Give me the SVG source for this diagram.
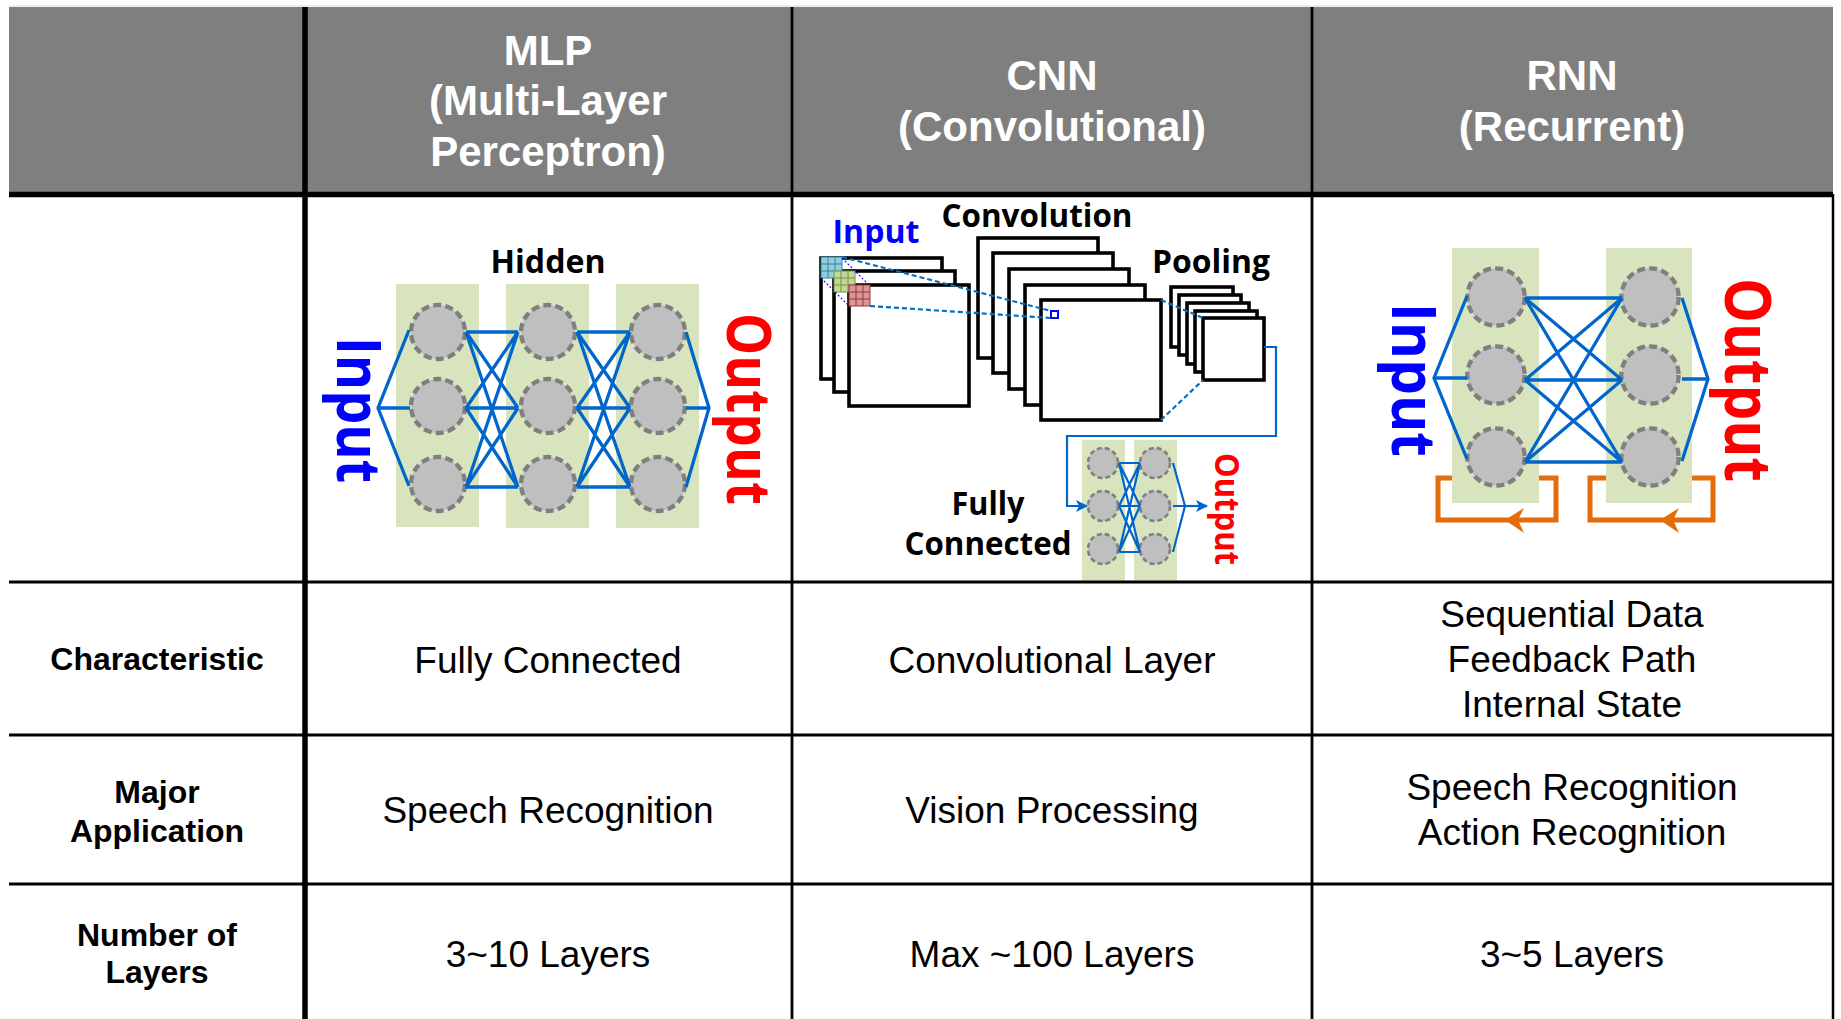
<svg xmlns="http://www.w3.org/2000/svg" xmlns:xlink="http://www.w3.org/1999/xlink" width="1841" height="1019" viewBox="0 0 1841 1019">
  <defs>
    <style>
      .hdr { font-family: "Liberation Sans", Arial, sans-serif; font-weight: bold; font-size: 42px; fill: #FFFFFF; text-anchor: middle; }
      .rowlbl { font-family: "Liberation Sans", Arial, sans-serif; font-weight: bold; font-size: 32px; fill: #000000; text-anchor: middle; }
      .cell { font-family: "Liberation Sans", Arial, sans-serif; font-size: 37px; fill: #000000; text-anchor: middle; }
      .lbl { font-family: "Open Sans", "Noto Sans", sans-serif; font-weight: bold; text-anchor: middle; }
      .grid { stroke: #000000; fill: none; }
      .layer { fill: #D7E4BD; }
      .neuron { fill: #BFBFBF; stroke: #7F7F7F; stroke-width: 4.3; stroke-dasharray: 8 4.2; }
      .neuron-s { fill: #BFBFBF; stroke: #7F7F7F; stroke-width: 2.6; stroke-dasharray: 5 3; }
      .link { fill: none; stroke: #0066CC; stroke-width: 3.3; stroke-linejoin: miter; }
      .link-s { fill: none; stroke: #0066CC; stroke-width: 2.2; }
      .fmap { fill: #FFFFFF; stroke: #000000; stroke-width: 3.6; }
      .proj { fill: none; stroke: #0070C0; stroke-width: 2.2; stroke-dasharray: 5 3; }
      .proj-thin { fill: none; stroke: #0000FF; stroke-width: 1.1; stroke-dasharray: 2 2; }
      .loop { fill: none; stroke: #E46C0A; stroke-width: 5; }
    </style>
    <marker id="arrowBlue" markerUnits="userSpaceOnUse" markerWidth="12" markerHeight="12" refX="11" refY="6" orient="auto">
      <path d="M0,0 L12,6 L0,12 L3,6 Z" fill="#0066CC"/>
    </marker>
    <path id="stealthLeft" d="M0,0 L19,-12 L13,0 L19,13 Z" fill="#E46C0A"/>
  </defs>

  <rect x="0" y="0" width="1841" height="1019" fill="#FFFFFF"/>

  <!-- header band -->
  <g id="header">
    <line x1="9" y1="6" x2="1833" y2="6" stroke="#D9D9D9" stroke-width="1"/>
    <rect x="9" y="7" width="1824" height="188" fill="#7F7F7F"/>
    <text class="hdr" x="548" y="65">MLP</text>
    <text class="hdr" x="548" y="115">(Multi-Layer</text>
    <text class="hdr" x="548" y="166">Perceptron)</text>
    <text class="hdr" x="1052" y="90">CNN</text>
    <text class="hdr" x="1052" y="141">(Convolutional)</text>
    <text class="hdr" x="1572" y="90">RNN</text>
    <text class="hdr" x="1572" y="141">(Recurrent)</text>
  </g>

  <!-- row labels -->
  <g id="row-labels">
    <text class="rowlbl" x="157" y="670">Characteristic</text>
    <text class="rowlbl" x="157" y="803">Major</text>
    <text class="rowlbl" x="157" y="842">Application</text>
    <text class="rowlbl" x="157" y="946">Number of</text>
    <text class="rowlbl" x="157" y="983">Layers</text>
  </g>

  <!-- table cells -->
  <g id="cells">
    <text class="cell" x="548" y="673">Fully Connected</text>
    <text class="cell" x="548" y="823">Speech Recognition</text>
    <text class="cell" x="548" y="967">3~10 Layers</text>
    <text class="cell" x="1052" y="673">Convolutional Layer</text>
    <text class="cell" x="1052" y="823">Vision Processing</text>
    <text class="cell" x="1052" y="967">Max ~100 Layers</text>
    <text class="cell" x="1572" y="627">Sequential Data</text>
    <text class="cell" x="1572" y="672">Feedback Path</text>
    <text class="cell" x="1572" y="717">Internal State</text>
    <text class="cell" x="1572" y="800">Speech Recognition</text>
    <text class="cell" x="1572" y="845">Action Recognition</text>
    <text class="cell" x="1572" y="967">3~5 Layers</text>
  </g>

  <!-- ===== MLP ===== -->
  <g id="mlp-layer-1">
    <rect class="layer" x="396" y="284" width="83" height="243"/>
    <circle class="neuron" cx="438" cy="332" r="27"/>
    <circle class="neuron" cx="438" cy="406" r="27"/>
    <circle class="neuron" cx="438" cy="484" r="27"/>
  </g>
  <g id="mlp-layer-2">
    <rect class="layer" x="506" y="284" width="83" height="244"/>
    <circle class="neuron" cx="548" cy="332" r="27"/>
    <circle class="neuron" cx="548" cy="406" r="27"/>
    <circle class="neuron" cx="548" cy="484" r="27"/>
  </g>
  <g id="mlp-layer-3">
    <rect class="layer" x="616" y="284" width="83" height="244"/>
    <circle class="neuron" cx="658" cy="332" r="27"/>
    <circle class="neuron" cx="658" cy="406" r="27"/>
    <circle class="neuron" cx="658" cy="484" r="27"/>
  </g>
  <g id="mlp-labels">
    <text class="lbl" x="548" y="273" font-size="32" textLength="115" lengthAdjust="spacingAndGlyphs" fill="#000000">Hidden</text>
    <text class="lbl" transform="translate(337,410) rotate(90)" font-size="60" textLength="146" lengthAdjust="spacingAndGlyphs" fill="#0000FF">Input</text>
    <text class="lbl" transform="translate(727,409) rotate(90)" font-size="60" textLength="192" lengthAdjust="spacingAndGlyphs" fill="#FF0000">Output</text>
  </g>

  <!-- ===== CNN ===== -->
  <g id="cnn-input">
    <rect class="fmap" x="821" y="258" width="121" height="121"/>
    <rect class="fmap" x="834" y="271" width="121" height="121"/>
    <rect class="fmap" x="849" y="285" width="120" height="121"/>
    <!-- 3x3 kernels, one per channel -->
    <g stroke="#31859C" stroke-width="1" fill="#93CDDD">
      <rect x="821" y="257" width="21" height="21"/>
      <path d="M828,257 V278 M835,257 V278 M821,264 H842 M821,271 H842" fill="none"/>
    </g>
    <g stroke="#77933C" stroke-width="1" fill="#C3D69B">
      <rect x="834" y="271" width="21" height="21"/>
      <path d="M841,271 V292 M848,271 V292 M834,278 H855 M834,285 H855" fill="none"/>
    </g>
    <g stroke="#953735" stroke-width="1" fill="#D99694">
      <rect x="849" y="285" width="21" height="21"/>
      <path d="M856,285 V306 M863,285 V306 M849,292 H870 M849,299 H870" fill="none"/>
    </g>
  </g>
  <g id="cnn-convolution">
    <rect class="fmap" x="978" y="238" width="120" height="120"/>
    <rect class="fmap" x="993" y="253" width="120" height="120"/>
    <rect class="fmap" x="1009" y="269" width="120" height="120"/>
    <rect class="fmap" x="1025" y="285" width="120" height="120"/>
    <rect class="fmap" x="1041" y="300" width="120" height="120"/>
    <rect x="1051" y="311" width="7" height="7" fill="#FFFFFF" stroke="#0000FF" stroke-width="2"/>
  </g>
  <g id="cnn-pooling">
    <rect class="fmap" x="1171" y="287" width="62" height="60"/>
    <rect class="fmap" x="1179" y="295" width="62" height="60"/>
    <rect class="fmap" x="1187" y="303" width="62" height="61"/>
    <rect class="fmap" x="1195" y="311" width="62" height="61"/>
    <rect class="fmap" x="1203" y="318" width="61" height="62"/>
  </g>
  <g id="cnn-fc-1">
    <rect class="layer" x="1082" y="440" width="43" height="141"/>
    <circle class="neuron-s" cx="1103" cy="463" r="15"/>
    <circle class="neuron-s" cx="1103" cy="506" r="15"/>
    <circle class="neuron-s" cx="1103" cy="549" r="15"/>
  </g>
  <g id="cnn-fc-2">
    <rect class="layer" x="1134" y="440" width="43" height="141"/>
    <circle class="neuron-s" cx="1155" cy="463" r="15"/>
    <circle class="neuron-s" cx="1155" cy="506" r="15"/>
    <circle class="neuron-s" cx="1155" cy="549" r="15"/>
  </g>
  <g id="cnn-labels">
    <text class="lbl" x="876" y="243" font-size="32" textLength="87" lengthAdjust="spacingAndGlyphs" fill="#0000FF">Input</text>
    <text class="lbl" x="1037" y="227" font-size="32" textLength="191" lengthAdjust="spacingAndGlyphs" fill="#000000">Convolution</text>
    <text class="lbl" x="1211" y="273" font-size="32" textLength="118" lengthAdjust="spacingAndGlyphs" fill="#000000">Pooling</text>
    <text class="lbl" x="988" y="515" font-size="32" textLength="73" lengthAdjust="spacingAndGlyphs" fill="#000000">Fully</text>
    <text class="lbl" x="988" y="555" font-size="32" textLength="167" lengthAdjust="spacingAndGlyphs" fill="#000000">Connected</text>
    <text class="lbl" transform="translate(1215,509) rotate(90)" font-size="34" textLength="112" lengthAdjust="spacingAndGlyphs" fill="#FF0000">Output</text>
  </g>

  <!-- ===== RNN ===== -->
  <g id="rnn-feedback">
    <path class="loop" d="M1452,478 H1438 V520 H1556 V478 H1539"/>
    <use xlink:href="#stealthLeft" href="#stealthLeft" x="1505" y="520"/>
    <path class="loop" d="M1606,478 H1590 V520 H1713 V478 H1692"/>
    <use xlink:href="#stealthLeft" href="#stealthLeft" x="1660" y="520"/>
  </g>
  <g id="rnn-layer-1">
    <rect class="layer" x="1452" y="248" width="87" height="255"/>
    <circle class="neuron" cx="1496" cy="297" r="28.7"/>
    <circle class="neuron" cx="1496" cy="375" r="28.7"/>
    <circle class="neuron" cx="1496" cy="457" r="28.7"/>
  </g>
  <g id="rnn-layer-2">
    <rect class="layer" x="1606" y="248" width="86" height="255"/>
    <circle class="neuron" cx="1650" cy="297" r="28.7"/>
    <circle class="neuron" cx="1650" cy="375" r="28.7"/>
    <circle class="neuron" cx="1650" cy="457" r="28.7"/>
  </g>
  <g id="rnn-labels">
    <text class="lbl" transform="translate(1392,380) rotate(90)" font-size="60" textLength="154" lengthAdjust="spacingAndGlyphs" fill="#0000FF">Input</text>
    <text class="lbl" transform="translate(1725,380) rotate(90)" font-size="65" textLength="204" lengthAdjust="spacingAndGlyphs" fill="#FF0000">Output</text>
  </g>

  <!-- ===== connectors ===== -->
  <g id="connectors">
    <!-- MLP -->
    <path class="link" d="M409,330 L378,408 L409,486 M378,408 L410,408"/>
    <path class="link" d="M466,332 L518,332 M466,332 L518,408 M466,332 L518,487 M466,408 L518,332 M466,408 L518,408 M466,408 L518,487 M466,487 L518,332 M466,487 L518,408 M466,487 L518,487"/>
    <path class="link" d="M577,332 L630,332 M577,332 L630,408 M577,332 L630,487 M577,408 L630,332 M577,408 L630,408 M577,408 L630,487 M577,487 L630,332 M577,487 L630,408 M577,487 L630,487"/>
    <path class="link" d="M686,332 L709,408 L686,487 M686,408 L709,408"/>
    <!-- CNN receptive-field projections -->
    <path class="proj-thin" d="M842,258 L868,284 M821,278 L848,305"/>
    <path class="proj" d="M842,257 L1051,311 M870,306 L1051,318"/>
    <path class="proj" d="M1161,300 L1203,318 M1161,420 L1203,380"/>
    <!-- CNN pooling to fully connected -->
    <path class="link-s" d="M1264,347 H1276 V436 H1067 V506 H1087" marker-end="url(#arrowBlue)"/>
    <path class="link-s" d="M1119,463 L1140,463 M1119,463 L1140,506 M1119,463 L1140,552 M1119,506 L1140,463 M1119,506 L1140,506 M1119,506 L1140,552 M1119,552 L1140,463 M1119,552 L1140,506 M1119,552 L1140,552"/>
    <path class="link-s" d="M1173,463 L1185,506 L1173,552 M1173,506 L1185,506"/>
    <path class="link-s" d="M1185,506 H1207" marker-end="url(#arrowBlue)"/>
    <!-- RNN -->
    <path class="link" d="M1467,296 L1434,378 L1467,459 M1434,378 L1467,378"/>
    <path class="link" d="M1525,298 L1622,298 M1525,298 L1622,380 M1525,298 L1622,462 M1525,380 L1622,298 M1525,380 L1622,380 M1525,380 L1622,462 M1525,462 L1622,298 M1525,462 L1622,380 M1525,462 L1622,462"/>
    <path class="link" d="M1682,298 L1708,379 L1682,461 M1682,379 L1708,379"/>
  </g>

  <!-- table rules -->
  <g id="rules" stroke="#000000">
    <line x1="9" y1="194.5" x2="1833" y2="194.5" stroke-width="5.5"/>
    <line x1="9" y1="582" x2="1833" y2="582" stroke-width="3"/>
    <line x1="9" y1="735" x2="1833" y2="735" stroke-width="3"/>
    <line x1="9" y1="884" x2="1833" y2="884" stroke-width="3"/>
    <line x1="305" y1="7" x2="305" y2="1019" stroke-width="5.5"/>
    <line x1="792" y1="7" x2="792" y2="1019" stroke-width="2.8"/>
    <line x1="1312" y1="7" x2="1312" y2="1019" stroke-width="2.8"/>
    <line x1="1833" y1="194" x2="1833" y2="1019" stroke-width="2.5"/>
  </g>
</svg>
